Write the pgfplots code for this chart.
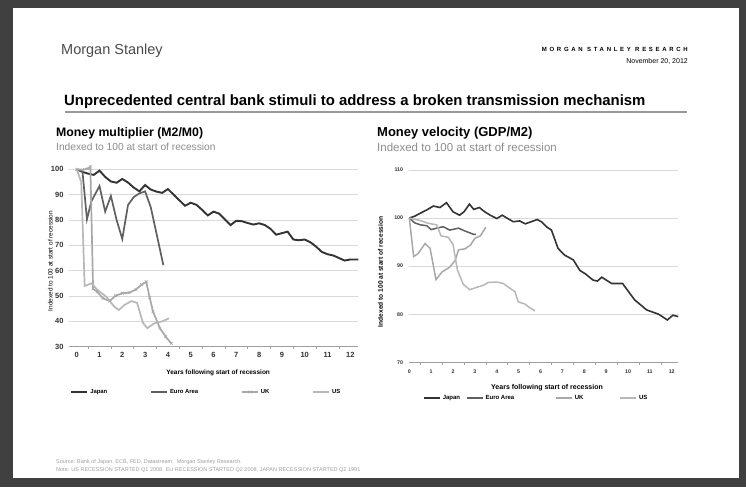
\documentclass[border=0pt]{standalone}
\usepackage{fontspec}
\setmainfont{Liberation Sans}
\newfontfamily\spaced[LetterSpace=45]{Liberation Sans}
\usepackage{pgfplots}
\pgfplotsset{compat=1.18}
\definecolor{frame}{HTML}{404040}
\definecolor{cJapan}{HTML}{333333}
\definecolor{cEuro}{HTML}{606060}
\definecolor{cUK}{HTML}{A8A8A8}
\definecolor{cUS}{HTML}{B8B8B8}
\definecolor{gridc}{HTML}{D9D9D9}
\definecolor{axisc}{HTML}{A0A0A0}
\definecolor{subc}{HTML}{8C8C8C}
\definecolor{srcc}{HTML}{A0A0A0}
\newcommand\fsz[1]{\fontsize{#1pt}{#1pt}\selectfont}

\pgfplotsset{
  slide/.style={
    scale only axis, anchor=south west, clip=false,
    /pgf/number format/assume math mode=true,
    axis x line*=bottom, axis y line*=left,
    x axis line style={-, color=axisc, line width=0.8pt},
    y axis line style={draw=none},
    ytick style={draw=none},
    major tick length=0pt, minor tick length=2.5pt, tick align=outside,
    minor tick style={color=axisc, line width=0.6pt},
    ymajorgrids, grid style={gridc, line width=0.9pt},
    tick label style={text=cJapan},
    legend cell align=left,
    legend image code/.code={\draw[mark repeat=2,mark phase=2,##1] plot coordinates {(0pt,0pt) (8pt,0pt) (16pt,0pt)};},
  },
}

\begin{document}
\begin{tikzpicture}[txt/.style={inner sep=0pt, anchor=west}]
\fill[frame] (0,0) rectangle (746pt,487pt);
\fill[white] (13pt,9pt) rectangle (739pt,479pt);

% header
\node[txt, text=black!70] at (61pt,436.5pt) {\fsz{14.5}Morgan Stanley};
\node[txt, anchor=east] at (688pt,438pt) {\spaced\bfseries\fsz{6}MORGAN STANLEY RESEARCH};
\node[txt, anchor=east] at (688pt,425.5pt) {\fsz{7}November 20, 2012};
\node[txt] at (64pt,385pt) {\bfseries\fsz{14.9}Unprecedented central bank stimuli to address a broken transmission mechanism};
\draw[line width=2pt, color=black!40] (65pt,375pt) -- (687pt,375pt);

\node[txt] at (56pt,354pt) {\bfseries\fsz{12.3}Money multiplier (M2/M0)};
\node[txt, text=subc] at (56pt,340pt) {\fsz{10.2}Indexed to 100 at start of recession};
\node[txt] at (377pt,354pt) {\bfseries\fsz{13}Money velocity (GDP/M2)};
\node[txt, text=subc] at (377pt,340pt) {\fsz{11.5}Indexed to 100 at start of recession};

\node[txt, text=srcc] at (56pt,25pt) {\fsz{5.5}Source: Bank of Japan, ECB, FED, Datastream,\ \ Morgan Stanley Research.};
\node[txt, text=srcc] at (56pt,16.5pt) {\fsz{5.5}Note: US RECESSION STARTED Q1 2008. EU RECESSION STARTED Q2 2008, JAPAN RECESSION STARTED Q2 1991};

% left chart
\begin{axis}[slide,
  at={(68.7pt,140.3pt)}, width=289.6pt, height=177.4pt,
  xmin=-0.35, xmax=12.35, ymin=30, ymax=100,
  xtick={0,1,...,12}, minor xtick={0.5,1.5,...,11.5},
  ytick={30,40,...,100},
  xticklabel style={font=\bfseries\fsz{7.5}, inner sep=0pt, yshift=-5pt},
  yticklabel style={font=\bfseries\fsz{7.5}, inner sep=0pt, xshift=-5pt},
  xlabel={Years following start of recession},
  xlabel style={at={(axis description cs:0.516,-0.148)}, anchor=center, font=\bfseries\fsz{6.5}},
  ylabel={Indexed to 100 at start of recession},
  ylabel style={at={(axis description cs:-0.063,0.483)}, anchor=center, font=\fsz{6.4}},
  legend style={at={(axis description cs:0.005,-0.255)}, anchor=west, draw=none, fill=none,
    inner sep=0pt, font=\bfseries\fsz{5.9}, legend columns=4,
    /tikz/every even column/.append style={column sep=41pt}},
]
\addplot[cJapan, line width=1.9pt] coordinates {
(0,100) (0.25,99) (0.5,98.3) (0.75,97.8) (1.0,99.5) (1.25,97) (1.5,95.2) (1.75,94.7)
(2.0,96.2) (2.25,94.8) (2.5,92.8) (2.75,91.3) (3.0,93.8) (3.25,92) (3.5,91.2) (3.75,90.7)
(4.0,92.2) (4.25,90) (4.5,87.8) (4.75,85.6) (5.0,86.8) (5.25,86) (5.5,84) (5.75,81.8)
(6.0,83.3) (6.25,82.5) (6.5,80.2) (6.75,78) (7.0,79.7) (7.25,79.5) (7.5,78.8) (7.75,78.2)
(8.0,78.7) (8.25,78) (8.5,76.5) (8.75,74.2) (9.0,74.8) (9.25,75.4) (9.5,72.3) (9.75,72)
(10.0,72.3) (10.25,71.2) (10.5,69.5) (10.75,67.4) (11.0,66.5) (11.25,66) (11.5,65) (11.75,64)
(12.0,64.4) (12.35,64.4)};
\addlegendentry{Japan}
\addplot[cEuro, line width=1.7pt] coordinates {
(0,100) (0.25,99.5) (0.45,80.3) (0.65,87.5) (1.0,93.4) (1.25,83.3) (1.5,89.5) (1.75,80)
(2.0,72.5) (2.25,85.9) (2.5,89) (2.75,90.5) (3.0,91.3) (3.25,85) (3.5,74.7) (3.8,62.2)};
\addlegendentry{Euro Area}
\addplot[cUK, line width=1.7pt, mark=x, mark size=2pt, mark options={line width=0.5pt}] coordinates {
(0,100) (0.25,99.8) (0.5,100.3) (0.6,101) (0.72,52.8) (0.9,51.7) (1.15,49.1) (1.45,48)
(1.7,50.1) (2.0,51.1) (2.3,51.3) (2.6,52.6) (2.85,54.5) (3.05,55.6) (3.2,49.5) (3.35,43.8)
(3.65,37.3) (3.9,34) (4.15,31.3)};
\addlegendentry{UK}
\addplot[cUS, line width=1.7pt] coordinates {
(0,100) (0.2,95) (0.35,54) (0.65,55) (0.9,52.5) (1.3,49.7) (1.65,45.8) (1.85,44.5)
(2.1,46.5) (2.4,48) (2.65,47.3) (2.9,39.5) (3.1,37.3) (3.4,39.2) (3.75,40) (4.05,41.2)};
\addlegendentry{US}
\end{axis}

% right chart
\begin{axis}[slide,
  at={(409.3pt,124.7pt)}, width=269pt, height=192.3pt,
  xmin=0, xmax=12.3, ymin=70, ymax=110,
  xtick={0,1,...,12}, minor xtick={0.5,1.5,...,11.5},
  ytick={70,80,...,110},
  xticklabel style={font=\bfseries\fsz{5.3}, inner sep=0pt, yshift=-7.5pt},
  yticklabel style={font=\bfseries\fsz{5.3}, inner sep=0pt, xshift=-6pt},
  xlabel={Years following start of recession},
  xlabel style={at={(axis description cs:0.512,-0.134)}, anchor=center, font=\bfseries\fsz{7}},
  ylabel={Indexed to 100 at start of recession},
  ylabel style={at={(axis description cs:-0.107,0.47)}, anchor=center, font=\bfseries\fsz{6.6}},
  legend style={at={(axis description cs:0.051,-0.186)}, anchor=west, draw=none, fill=none,
    inner sep=0pt, font=\bfseries\fsz{6}, legend columns=4,
    /tikz/column 2/.style={column sep=4pt},
    /tikz/column 4/.style={column sep=39pt},
    /tikz/column 6/.style={column sep=34pt}},
]
\addplot[cJapan, line width=1.6pt] coordinates {
(0,100) (0.25,100.4) (0.5,101) (0.8,101.7) (1.1,102.5) (1.4,102.2) (1.7,103.2) (2.0,101.3)
(2.3,100.6) (2.5,101.3) (2.75,102.9) (2.95,101.8) (3.2,102.2) (3.45,101.3) (3.7,100.6) (4.0,99.9)
(4.25,100.6) (4.5,99.9) (4.75,99.25) (5.05,99.4) (5.3,98.8) (5.55,99.2) (5.85,99.7) (6.05,99.2)
(6.3,98.1) (6.5,97.5) (6.8,93.7) (7.1,92.3) (7.5,91.3) (7.8,89.1) (8.05,88.4) (8.4,87.1)
(8.6,86.9) (8.8,87.7) (9.25,86.4) (9.75,86.4) (10.3,83) (10.85,80.9) (11.4,80.0) (11.8,78.8)
(12.05,79.8) (12.3,79.5)};
\addlegendentry{Japan}
\addplot[cEuro, line width=1.5pt] coordinates {
(0,100) (0.25,99) (0.5,98.6) (0.8,98.4) (1.0,97.6) (1.25,97.9) (1.55,98.2) (1.85,97.5)
(2.25,97.9) (2.55,97.3) (2.95,96.6) (3.05,96.6)};
\addlegendentry{Euro Area}
\addplot[cUK, line width=1.5pt] coordinates {
(0,100) (0.2,92) (0.4,92.6) (0.72,94.7) (0.95,93.7) (1.22,87.2) (1.5,88.8) (1.85,89.8)
(2.1,91.2) (2.25,93.4) (2.55,93.6) (2.8,94.4) (3.0,95.8) (3.25,96.3) (3.5,98.1)};
\addlegendentry{UK}
\addplot[cUS, line width=1.5pt] coordinates {
(0,100) (0.5,99.5) (0.87,98.9) (1.25,98.6) (1.45,96.3) (1.78,96) (2.0,94.5) (2.2,89.2)
(2.47,86.2) (2.77,85.1) (3.08,85.6) (3.38,86) (3.61,86.6) (4.0,86.7) (4.3,86.4) (4.6,85.4)
(4.83,84.7) (4.98,82.6) (5.29,82.1) (5.49,81.4) (5.75,80.7)};
\addlegendentry{US}
\end{axis}
\end{tikzpicture}
\end{document}
